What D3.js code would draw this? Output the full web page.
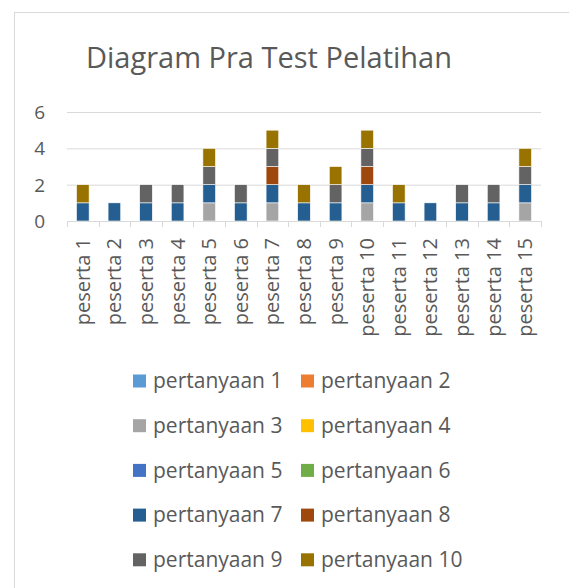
<!DOCTYPE html>
<html>
<head>
<meta charset="utf-8">
<script src="https://cdn.jsdelivr.net/npm/d3@7"></script>
<style>
  body { margin: 0; background: #fff; }
  text { font-family: "Open Sans", sans-serif; fill: #595959; }
</style>
</head>
<body>
<div id="chart"></div>
<script>
// data
var peserta = ["peserta 1","peserta 2","peserta 3","peserta 4","peserta 5","peserta 6","peserta 7","peserta 8",
               "peserta 9","peserta 10","peserta 11","peserta 12","peserta 13","peserta 14","peserta 15"];
var seriesNames = ["pertanyaan 1","pertanyaan 2","pertanyaan 3","pertanyaan 4","pertanyaan 5",
                   "pertanyaan 6","pertanyaan 7","pertanyaan 8","pertanyaan 9","pertanyaan 10"];
var colors = ["#5b9bd5","#ed7d31","#a5a5a5","#ffc000","#4472c4","#70ad47","#255e91","#9e480e","#636363","#997300"];
// one row per question, one value per peserta
var p1  = [0,0,0,0,0,0,0,0,0,0,0,0,0,0,0];
var p2  = [0,0,0,0,0,0,0,0,0,0,0,0,0,0,0];
var p3  = [0,0,0,0,1,0,1,0,0,1,0,0,0,0,1];
var p4  = [0,0,0,0,0,0,0,0,0,0,0,0,0,0,0];
var p5  = [0,0,0,0,0,0,0,0,0,0,0,0,0,0,0];
var p6  = [0,0,0,0,0,0,0,0,0,0,0,0,0,0,0];
var p7  = [1,1,1,1,1,1,1,1,1,1,1,1,1,1,1];
var p8  = [0,0,0,0,0,0,1,0,0,1,0,0,0,0,0];
var p9  = [0,0,1,1,1,1,1,0,1,1,0,0,1,1,1];
var p10 = [1,0,0,0,1,0,1,1,1,1,1,0,0,0,1];
var yTicks = [0,2,4,6];

var values = [p1,p2,p3,p4,p5,p6,p7,p8,p9,p10];

var svgWidth = 569, svgHeight = 588;
var plot = {left: 67, right: 541, top: 112, bottom: 221};

var table = peserta.map(function(p, i) {
  var row = {name: p};
  seriesNames.forEach(function(s, j) { row[s] = values[j][i]; });
  return row;
});
var stacked = d3.stack().keys(seriesNames)(table);

var svg = d3.select('#chart').append('svg')
  .attr('width', svgWidth)
  .attr('height', svgHeight);

// chart border
svg.append('rect')
  .attr('x', 14.5).attr('y', 12.5)
  .attr('width', 600).attr('height', 600)
  .attr('fill', 'none')
  .attr('stroke', '#d9d9d9');

svg.append('text')
  .attr('x', 269).attr('y', 68)
  .attr('text-anchor', 'middle')
  .style('font-size', '29px')
  .text('Diagram Pra Test Pelatihan');

var xScale = d3.scaleBand()
  .domain(peserta)
  .range([plot.left, plot.right])
  .paddingInner(0.6)
  .paddingOuter(0.3);

var yScale = d3.scaleLinear()
  .domain([0, 6])
  .range([plot.bottom, plot.top]);

// gridlines
svg.append('g').selectAll('line')
  .data(yTicks.filter(function(t) { return t > 0; }))
  .enter().append('line')
  .attr('x1', plot.left).attr('x2', plot.right)
  .attr('y1', d => yScale(d) + 0.5).attr('y2', d => yScale(d) + 0.5)
  .attr('stroke', '#d9d9d9').attr('stroke-width', 1);

// y labels
var yAxis = d3.axisLeft(yScale).tickValues(yTicks).tickFormat(d3.format('d')).tickSize(0).tickPadding(0);
var gy = svg.append('g')
  .attr('transform', 'translate(45,0)')
  .call(yAxis);
gy.select('.domain').remove();
gy.selectAll('text')
  .style('font-size', '19px')
  .attr('font-family', null)
  .attr('dy', '0.35em');

// bars
svg.append('g').selectAll('g')
  .data(stacked)
  .enter().append('g')
  .attr('fill', (d, i) => colors[i])
  .selectAll('rect')
  .data(d => d.filter(s => s[1] - s[0] > 0))
  .enter().append('rect')
  .attr('x', d => xScale(d.data.name))
  .attr('width', xScale.bandwidth())
  .attr('y', d => yScale(d[1]))
  .attr('height', d => yScale(d[0]) - yScale(d[1]))
  .attr('stroke', '#fff')
  .attr('stroke-width', 0.6);

// x axis line and category ticks
var step = xScale.step();
var bounds = peserta.map(p => xScale(p) - (step - xScale.bandwidth()) / 2).concat([plot.right]);
svg.append('line')
  .attr('x1', plot.left).attr('x2', plot.right)
  .attr('y1', plot.bottom + 0.5).attr('y2', plot.bottom + 0.5)
  .attr('stroke', '#d9d9d9');
svg.append('g').selectAll('line')
  .data(bounds)
  .enter().append('line')
  .attr('x1', d => Math.round(d) + 0.5).attr('x2', d => Math.round(d) + 0.5)
  .attr('y1', plot.bottom).attr('y2', plot.bottom + 6)
  .attr('stroke', '#d9d9d9');

var xAxis = d3.axisBottom(xScale).tickSize(0).tickPadding(0);
var gx = svg.append('g')
  .attr('transform', `translate(0, ${plot.bottom})`)
  .call(xAxis);
gx.select('.domain').remove();
gx.selectAll('text')
  .attr('font-family', null)
  .style('font-size', '20px')
  .attr('text-anchor', 'end')
  .attr('transform', 'rotate(-90)')
  .attr('x', -17)
  .attr('y', 0)
  .attr('dy', '0.35em');

// legend, two columns
var legend = svg.append('g').selectAll('g')
  .data(seriesNames)
  .enter().append('g')
  .attr('transform', (d, i) => `translate(${i % 2 ? 301 : 133}, ${381 + Math.floor(i / 2) * 44.7})`);
legend.append('rect')
  .attr('x', 0).attr('y', -6.5)
  .attr('width', 13).attr('height', 13)
  .attr('fill', (d, i) => colors[i]);
legend.append('text')
  .attr('x', 20)
  .attr('dy', '0.35em')
  .style('font-size', '21px')
  .text(d => d);
</script>
</body>
</html>
